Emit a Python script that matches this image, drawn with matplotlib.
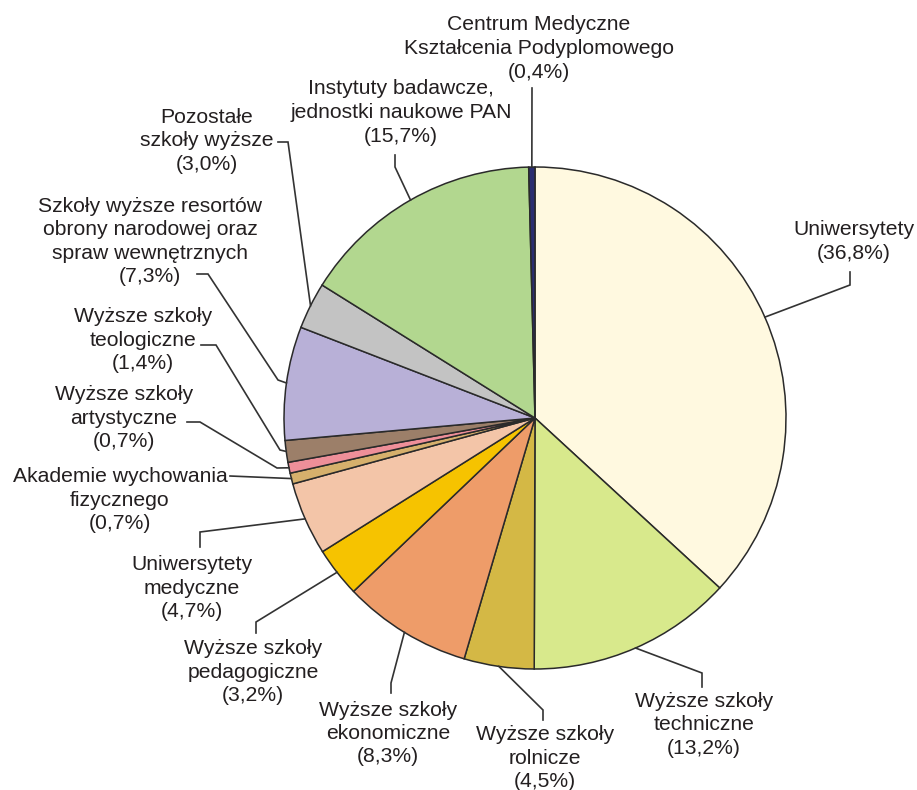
import matplotlib
matplotlib.use('Agg')
import matplotlib.pyplot as plt
import numpy as np

# ---- data ----
categories = [
    "Uniwersytety",
    "Wyższe szkoły\ntechniczne",
    "Wyższe szkoły\nrolnicze",
    "Wyższe szkoły\nekonomiczne",
    "Wyższe szkoły\npedagogiczne",
    "Uniwersytety\nmedyczne",
    "Akademie wychowania\nfizycznego",
    "Wyższe szkoły\nartystyczne",
    "Wyższe szkoły\nteologiczne",
    "Szkoły wyższe resortów\nobrony narodowej oraz\nspraw wewnętrznych",
    "Pozostałe\nszkoły wyższe",
    "Instytuty badawcze,\njednostki naukowe PAN",
    "Centrum Medyczne\nKształcenia Podyplomowego",
]
shares = [36.8, 13.2, 4.5, 8.3, 3.2, 4.7, 0.7, 0.7, 1.4, 7.3, 3.0, 15.7, 0.4]
colors = ['#FFF9E0', '#D8E98C', '#D4B845', '#EE9C69', '#F6C300', '#F3C5A8',
          '#D6B06C', '#EE8F99', '#9C7F69', '#B8B0D7', '#C3C3C3', '#B2D78F',
          '#2B2E70']

# ---- layout (pixel coordinates, y from top) ----
W, H = 917, 790
label_pos = [(854, 241.5), (704, 725), (545, 758), (388, 733.5), (253, 672),
             (192, 588), (120, 500), (124, 418), (143, 340), (150, 241.5),
             (207, 141), (401, 112.5), (539, 48.5)]
elbows = [
    [(850, 272), (850, 285)],
    [(702, 687), (702, 673)],
    [(543, 720), (543, 710)],
    [(391, 693), (391, 683)],
    [(256, 633), (256, 622)],
    [(200, 547), (200, 532)],
    [(230, 476)],
    [(187, 422), (200, 422), (277, 468)],
    [(201, 345), (216, 345), (280, 450)],
    [(197, 274), (208, 274), (278, 380)],
    [(278, 142), (288, 142)],
    [(395, 155), (395, 167)],
    [(532, 88)],
]
center_px = (535, 418)
radius = 251
line_pitch = 23.5
txt_color = '#231F20'
line_color = '#333333'
font = ['Liberation Sans', 'DejaVu Sans']

fig = plt.figure(figsize=(W / 100, H / 100), dpi=100)
ax = fig.add_axes([0, 0, 1, 1])
cx, cy = center_px[0], H - center_px[1]
wedges, _ = ax.pie(shares, colors=colors, startangle=90, counterclock=False,
                   center=(cx, cy), radius=radius,
                   wedgeprops=dict(edgecolor='#2A2A2A', linewidth=1.1))
ax.set_xlim(0, W)
ax.set_ylim(0, H)
ax.set_aspect('equal')
ax.axis('off')

for i, (name, val, w) in enumerate(zip(categories, shares, wedges)):
    lines = name.split('\n') + ["(" + f"{val:.1f}".replace('.', ',') + "%)"]
    lx, ly = label_pos[i]
    n = len(lines)
    for k, ln in enumerate(lines):
        yy = ly + (k - (n - 1) / 2) * line_pitch
        ax.text(lx, H - yy, ln, ha='center', va='center', fontsize=15.2,
                family=font, color=txt_color)
    mid = np.deg2rad((w.theta1 + w.theta2) / 2)
    ex = cx + radius * np.cos(mid)
    ey = cy + radius * np.sin(mid)
    xs = [p[0] for p in elbows[i]] + [ex]
    ys = [H - p[1] for p in elbows[i]] + [ey]
    ax.plot(xs, ys, color=line_color, linewidth=1.2, solid_joinstyle='miter')

fig.savefig('out.png', dpi=100)
